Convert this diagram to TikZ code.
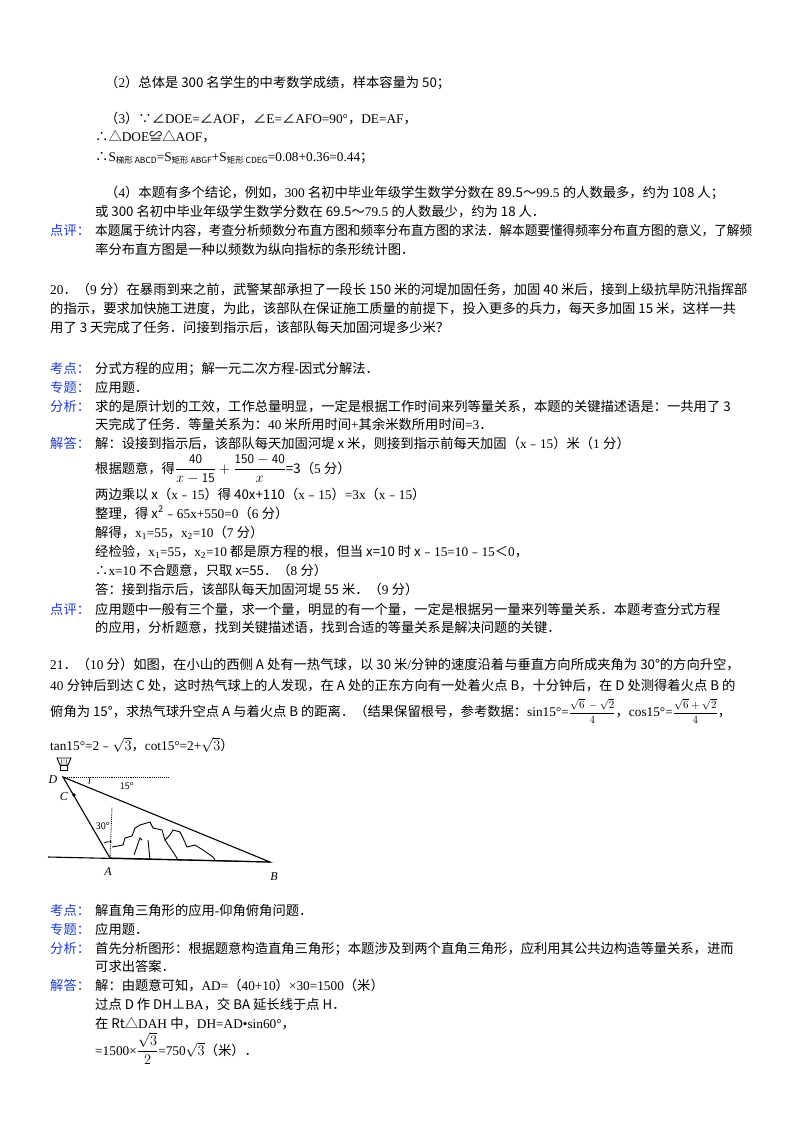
\documentclass[tikz,border=0pt]{standalone}
\usepackage{fontspec}
\setmainfont{Liberation Serif}
\newfontfamily\cjk{Noto Sans CJK SC}
\newfontfamily\lat{Liberation Serif}
\newXeTeXintercharclass\cjkclass
\newcount\cc
\def\setrange#1#2{\cc=#1\relax\loop\XeTeXcharclass\cc=\cjkclass\ifnum\cc<#2\advance\cc by1\repeat}
\setrange{"4E00}{"9FFF}
\setrange{"3000}{"303F}
\setrange{"FF00}{"FFEF}
\setrange{"2200}{"22FF}
\setrange{"25A0}{"25FF}
\setrange{"FE30}{"FE6F}
\setrange{"2026}{"2026}
\XeTeXinterchartoks 0 \cjkclass = {\cjk}
\XeTeXinterchartoks 4095 \cjkclass = {\cjk}
\XeTeXinterchartoks \cjkclass 0 = {\lat}
\XeTeXinterchartokenstate=1
\definecolor{lblue}{RGB}{30,60,210}
\newcommand{\sbx}[1]{\raisebox{-0.35ex}{\fontsize{8.5}{9}\selectfont #1}}
\newcommand{\lb}[1]{{\color{lblue}#1}}
\newcommand{\smfrac}[2]{{\fontsize{11}{11}\selectfont$\displaystyle\frac{#1}{#2}$}}
\begin{document}
\begin{tikzpicture}[x=1pt,y=1pt,
  tx/.style={anchor=base west,inner sep=0pt,font=\fontsize{13.3}{15}\selectfont},
  fig/.style={line width=1.1pt}]
\useasboundingbox[fill=white] (0,0) rectangle (800,-1132);
\newcommand{\T}[3]{\node[tx] at (#1,-#2) {#3};}
\T{105}{87}{（2）总体是 300 名学生的中考数学成绩，样本容量为 50；}
\T{105}{123}{（3）∵∠DOE=∠AOF，∠E=∠AFO=90°，DE=AF，}
\T{95}{141}{∴△DOE≌△AOF，}
\T{95}{161}{∴S\sbx{梯形 ABCD}=S\sbx{矩形 ABGF}+S\sbx{矩形 CDEG}=0.08+0.36=0.44；}
\T{105}{197}{（4）本题有多个结论，例如，300 名初中毕业年级学生数学分数在 89.5～99.5 的人数最多，约为 108 人；}
\T{95}{216}{或 300 名初中毕业年级学生数学分数在 69.5～79.5 的人数最少，约为 18 人．}
\T{50}{235}{\lb{点评：}}
\T{95}{235}{\scalebox{0.95}[1]{本题属于统计内容，考查分析频数分布直方图和频率分布直方图的求法．解本题要懂得频率分布直方图的意义，了解频}}
\T{95}{254}{率分布直方图是一种以频数为纵向指标的条形统计图．}
\T{50}{294}{20．（9 分）在暴雨到来之前，武警某部承担了一段长 150 米的河堤加固任务，加固 40 米后，接到上级抗旱防汛指挥部}
\T{50}{313}{的指示，要求加快施工进度，为此，该部队在保证施工质量的前提下，投入更多的兵力，每天多加固 15 米，这样一共}
\T{50}{332}{用了 3 天完成了任务．问接到指示后，该部队每天加固河堤多少米？}
\T{50}{373}{\lb{考点：}}\T{95}{373}{分式方程的应用；解一元二次方程-因式分解法．}
\T{50}{392}{\lb{专题：}}\T{95}{392}{应用题．}
\T{50}{411}{\lb{分析：}}\T{95}{411}{求的是原计划的工效，工作总量明显，一定是根据工作时间来列等量关系，本题的关键描述语是：一共用了 3}
\T{95}{429}{天完成了任务．等量关系为：40 米所用时间+其余米数所用时间=3．}
\T{50}{448}{\lb{解答：}}\T{95}{448}{解：设接到指示后，该部队每天加固河堤 x 米，则接到指示前每天加固（x﹣15）米（1 分）}
\T{95}{473}{根据题意，得$\displaystyle\frac{\mathsf{40}}{x-\mathsf{15}}+\frac{\mathsf{150-40}}{x}$=3（5 分）}
\T{95}{499}{两边乘以 x（x﹣15）得 40x+110（x﹣15）=3x（x﹣15）}
\T{95}{518}{整理，得 x\textsuperscript{2}﹣65x+550=0（6 分）}
\T{95}{537}{解得，x\textsubscript{1}=55，x\textsubscript{2}=10（7 分）}
\T{95}{556}{经检验，x\textsubscript{1}=55，x\textsubscript{2}=10 都是原方程的根，但当 x=10 时 x﹣15=10﹣15＜0，}
\T{95}{575}{∴x=10 不合题意，只取 x=55．（8 分）}
\T{95}{594}{答：接到指示后，该部队每天加固河堤 55 米．（9 分）}
\T{50}{614}{\lb{点评：}}\T{95}{614}{应用题中一般有三个量，求一个量，明显的有一个量，一定是根据另一量来列等量关系．本题考查分式方程}
\T{95}{632}{的应用，分析题意，找到关键描述语，找到合适的等量关系是解决问题的关键．}
\T{50}{669}{21．（10 分）如图，在小山的西侧 A 处有一热气球，以 30 米/分钟的速度沿着与垂直方向所成夹角为 30°的方向升空，}
\T{50}{690}{40 分钟后到达 C 处，这时热气球上的人发现，在 A 处的正东方向有一处着火点 B，十分钟后，在 D 处测得着火点 B 的}
\T{50}{716}{俯角为 15°，求热气球升空点 A 与着火点 B 的距离．（结果保留根号，参考数据：sin15°=\smfrac{\sqrt{6}\,-\sqrt{2}}{4}，cos15°=\smfrac{\sqrt{6}+\sqrt{2}}{4}，}
\T{50}{750}{tan15°=2﹣$\sqrt{3}$，cot15°=2+$\sqrt{3}$）}
% figure
\coordinate (D) at (63,-777);
\coordinate (A) at (110,-858);
\coordinate (B) at (270,-862);
\coordinate (C) at (74,-795);
\coordinate (H1) at (168,-777);
\coordinate (G1) at (48,-857);
\coordinate (V) at (112,-807);
\draw[fig] (G1) -- (B);
\draw[fig] (D) -- (A) -- (B) -- cycle;
\draw[densely dotted,line width=0.9pt] (D) -- (H1);
\draw[densely dotted,line width=0.9pt] (A) -- (V);
\fill (C) circle (1.8);
\draw[line width=0.8pt] (89,-784) to[bend right=10] (90,-777);
\draw[line width=0.8pt] (104,-843) to[bend left=20] (112,-842);
\draw[line width=0.9pt] (112,-847) -- (123,-845) -- (125,-838) -- (132,-836) -- (135,-828) -- (140,-825) -- (150,-822) -- (153,-828) -- (162,-830) -- (165,-840) -- (170,-835) -- (173,-830) -- (180,-832) -- (183,-838) -- (187,-847) -- (195,-845) -- (203,-850) -- (213,-857) -- (215,-860);
\draw[line width=0.9pt] (134,-855) -- (140,-838) -- (142,-840);
\draw[line width=0.9pt] (148,-840) -- (150,-860);
\draw[line width=0.9pt] (165,-840) -- (175,-855) -- (178,-860);
% balloon
\draw[line width=0.9pt] (57,-758) -- (71,-758) -- (68,-765) -- (60,-765) -- cycle;
\draw[line width=0.9pt] (60,-765) rectangle (67,-770);
\draw (61,-759) -- (62,-764) (64,-759)--(64,-764) (67,-759)--(66,-764);
\node[font=\itshape\fontsize{12}{12}\selectfont,inner sep=0pt] (lD) at (53,-780) {D};
\node[font=\itshape\fontsize{12}{12}\selectfont,inner sep=0pt] (lC) at (64,-797) {C};
\node[font=\itshape\fontsize{12}{12}\selectfont,inner sep=0pt] (lA) at (108,-872) {A};
\node[font=\itshape\fontsize{12}{12}\selectfont,inner sep=0pt] (lB) at (274,-877) {B};
\node[font=\sffamily\fontsize{10}{10}\selectfont,inner sep=0pt] (l15) at (127,-786) {15$^{\mathsf{o}}$};
\node[font=\sffamily\fontsize{10}{10}\selectfont,inner sep=0pt] (l30) at (103,-826) {30$^{\mathsf{o}}$};
\T{50}{915}{\lb{考点：}}\T{95}{915}{解直角三角形的应用-仰角俯角问题．}
\T{50}{934}{\lb{专题：}}\T{95}{934}{应用题．}
\T{50}{953}{\lb{分析：}}\T{95}{953}{首先分析图形：根据题意构造直角三角形；本题涉及到两个直角三角形，应利用其公共边构造等量关系，进而}
\T{95}{971}{可求出答案．}
\T{50}{990}{\lb{解答：}}\T{95}{990}{解：由题意可知，AD=（40+10）×30=1500（米）}
\T{95}{1009}{过点 D 作 DH⊥BA，交 BA 延长线于点 H．}
\T{95}{1028}{在 Rt△DAH 中，DH=AD•sin60°，}
\T{95}{1055}{=1500×$\displaystyle\frac{\sqrt{3}}{2}$=750$\sqrt{3}$（米）．}
\end{tikzpicture}
\end{document}
